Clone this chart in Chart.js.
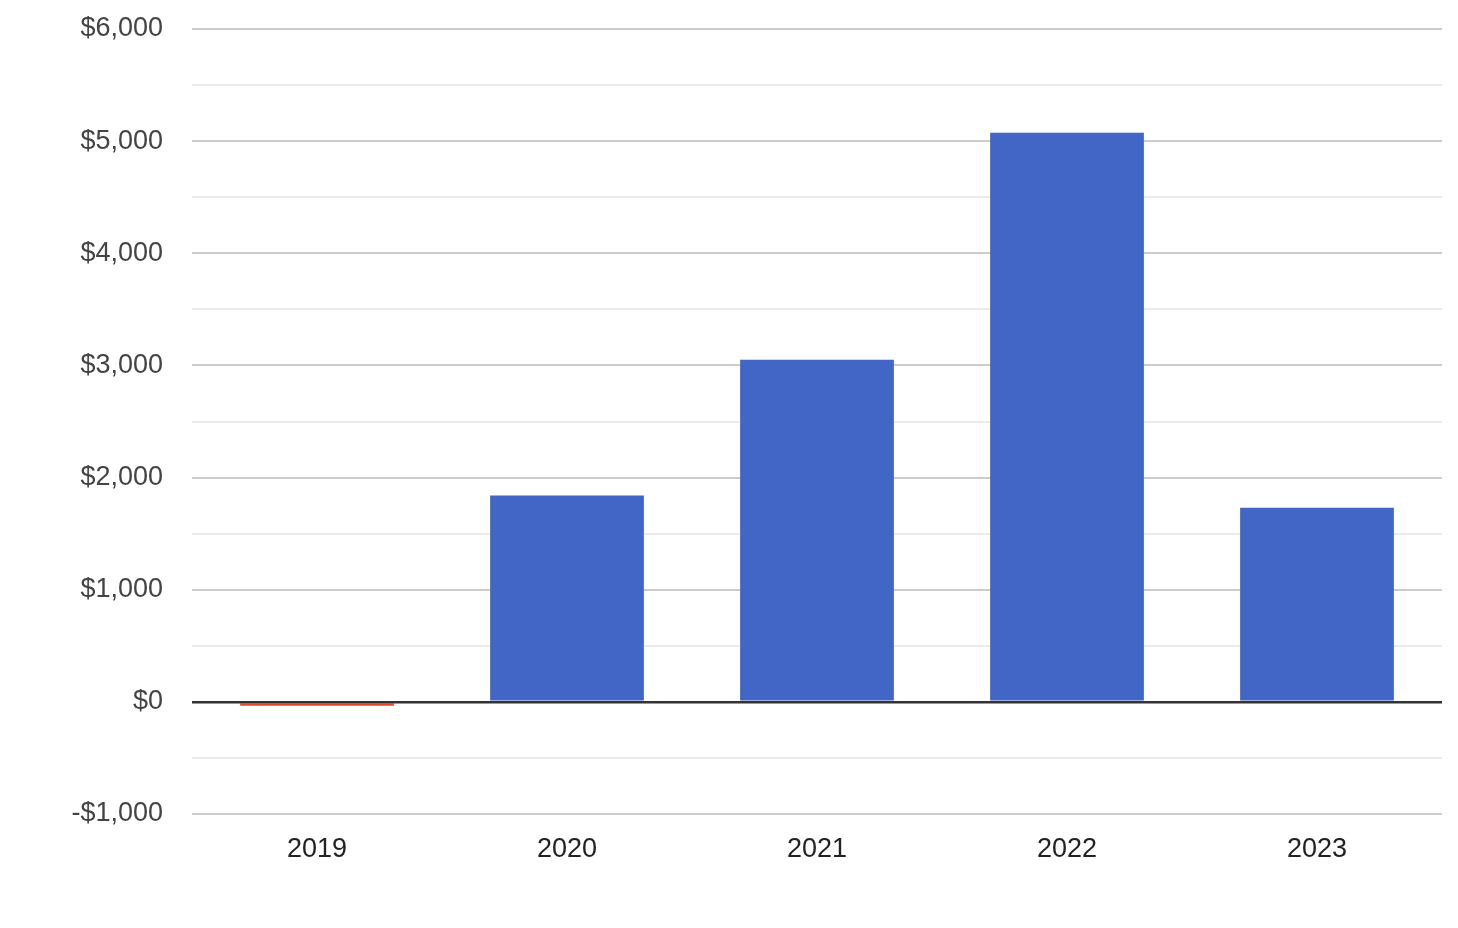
<!DOCTYPE html>
<html lang="en">
<head>
  <meta charset="UTF-8" />
  <title>Yearly result</title>
  <script src="https://cdn.jsdelivr.net/npm/chart.js"></script>
  <style>
    body {
      margin: 0;
      background: #ffffff;
    }

    .wrap {
      width: 1458px;
      height: 928px;
    }
  </style>
</head>
<body>

<div class="wrap">
  <canvas id="chart" width="1458" height="928"></canvas>
</div>

<script>
  // data
  const years = ['2019', '2020', '2021', '2022', '2023'];
  const amounts = [-35, 1840, 3050, 5075, 1730];

  const yMin = -1000;
  const yMax = 6000;
  const yStep = 500;

  const blue = '#4166c5';
  const red = '#dc4b2c';

  function money(v) {
    const s = '$' + Math.abs(v).toLocaleString('en-US');
    return v < 0 ? '-' + s : s;
  }

  new Chart(document.getElementById('chart'), {
    type: 'bar',
    data: {
      labels: years,
      datasets: [{
        data: amounts,
        backgroundColor: amounts.map(v => v < 0 ? red : blue),
        borderWidth: 0,
        barPercentage: 0.615,
        categoryPercentage: 1
      }]
    },
    options: {
      responsive: false,
      animation: false,
      layout: {
        padding: { top: 29, right: 16, left: 0, bottom: 0 }
      },
      plugins: {
        legend: { display: false },
        tooltip: { enabled: false }
      },
      scales: {
        x: {
          grid: { display: false },
          border: { display: false },
          ticks: {
            color: '#222',
            padding: 11,
            font: { family: "'Liberation Sans', Arial, sans-serif", size: 27 }
          },
          afterFit: (scale) => { scale.height = 928 - 814; }
        },
        y: {
          min: yMin,
          max: yMax,
          border: { display: false },
          grid: {
            drawTicks: false,
            lineWidth: (ctx) => ctx.tick && ctx.tick.value === 0 ? 2.5 : 2,
            color: (ctx) => {
              if (!ctx.tick) return '#ccc';
              if (ctx.tick.value === 0) return '#333';
              return ctx.tick.value % 1000 === 0 ? '#cccccc' : '#ebebeb';
            }
          },
          ticks: {
            stepSize: yStep,
            color: '#444',
            padding: 29,
            font: { family: "'Liberation Sans', Arial, sans-serif", size: 27 },
            callback: (v) => v % 1000 === 0 ? money(v) : ''
          },
          afterFit: (scale) => {
            scale.width = 192;
            // layout padding alone sets the top of the plot
            scale.paddingTop = 0;
            scale.paddingBottom = 0;
          }
        }
      }
    }
  });
</script>

</body>
</html>
